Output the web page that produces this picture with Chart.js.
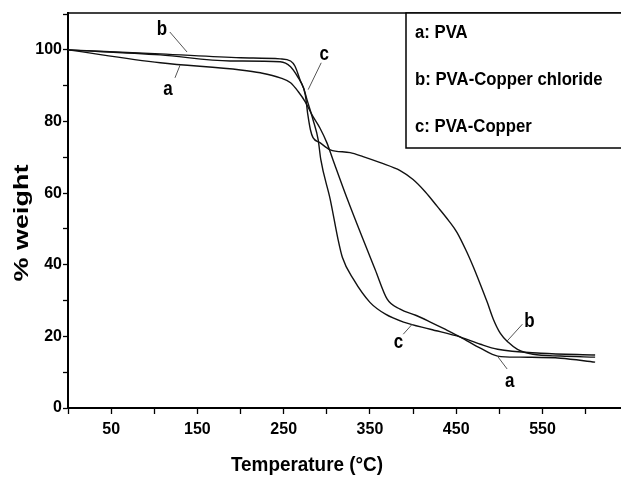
<!DOCTYPE html>
<html>
<head>
<meta charset="utf-8">
<script src="https://cdn.jsdelivr.net/npm/chart.js@4.4.0/dist/chart.umd.min.js"></script>
<style>
html, body { margin: 0; padding: 0; background: #fff; }
#wrap { width: 621px; height: 479px; }
</style>
</head>
<body>
<div id="wrap"><canvas id="tgaChart" width="621" height="479"></canvas></div>
<script>
// a: PVA
const tempA = [0, 107, 200, 223, 246, 258, 267, 275, 283, 292, 300, 307, 324, 342, 356, 370, 385, 403, 420, 437, 455, 478, 498, 524, 571, 611];
const weightA = [100, 96.4, 94.4, 93.6, 92.2, 90.8, 88.3, 85.5, 81.8, 78.2, 74.1, 69.4, 58.2, 47.1, 38.7, 30.4, 27.6, 25.9, 24.0, 22.0, 19.8, 16.7, 14.5, 14.2, 13.9, 12.8];

// b: PVA-Copper chloride
const tempB = [0, 107, 200, 246, 258, 263, 269, 275, 278, 281, 284, 292, 304, 327, 342, 362, 385, 400, 414, 428, 441, 451, 462, 470, 478, 486, 493, 501, 510, 521, 539, 571, 611];
const weightB = [100, 98.9, 97.8, 97.5, 96.9, 95.5, 91.6, 87.5, 81.9, 77.7, 75.5, 74.1, 72.1, 71.3, 70.2, 68.5, 66.3, 63.8, 60.4, 56.3, 52.4, 49.0, 43.7, 39.3, 34.5, 29.5, 24.8, 20.9, 18.4, 16.4, 15.0, 14.5, 14.2];

// c: PVA-Copper
const tempC = [0, 107, 188, 246, 258, 267, 273, 277, 284, 290, 293, 304, 313, 318, 331, 350, 368, 389, 420, 455, 478, 498, 548, 611];
const weightC = [100, 98.6, 96.9, 96.7, 95.3, 92.2, 89.4, 86.1, 80.5, 74.9, 69.4, 58.2, 47.1, 42.1, 35.9, 29.5, 26.2, 24.0, 22.0, 19.8, 17.8, 16.4, 15.3, 14.8];

const xTickLabels = [50, 150, 250, 350, 450, 550];
const yTickLabels = [0, 20, 40, 60, 80, 100];
const legendLines = ['a: PVA', 'b: PVA-Copper chloride', 'c: PVA-Copper'];

const sans = "'Liberation Sans', Arial, sans-serif";

function toPoints(xs, ys) {
    return xs.map((x, i) => ({ x: x, y: ys[i] }));
}

function curve(label, xs, ys) {
    return {
        label: label,
        data: toPoints(xs, ys),
        borderColor: '#111',
        borderWidth: 1.4,
        pointRadius: 0,
        fill: false,
        cubicInterpolationMode: 'monotone'
    };
}

// curve letters with short leader lines, in data units
const curveTags = [
    { text: 'b', at: [109, 105.8], from: [118, 105.0], to: [138, 99.4] },
    { text: 'a', at: [116, 88.9], from: [124, 92.2], to: [130, 95.8] },
    { text: 'c', at: [297, 98.6], from: [293.5, 96.4], to: [278.4, 88.9] },
    { text: 'c', at: [383, 18.4], from: [388.6, 20.6], to: [399, 23.4] },
    { text: 'b', at: [535, 24.2], from: [526.7, 23.4], to: [509, 18.7] },
    { text: 'a', at: [512, 7.5], from: [509, 10.9], to: [497.7, 14.5] }
];

// squeezed bold text, like the narrow face of the original
function narrowText(ctx, text, x, y, size, squeeze, angle) {
    ctx.save();
    ctx.translate(x, y);
    if (angle) ctx.rotate(angle);
    ctx.scale(angle ? 1 : squeeze, angle ? squeeze : 1);
    ctx.font = 'bold ' + size + 'px ' + sans;
    ctx.fillText(text, 0, 0);
    ctx.restore();
}

const decorPlugin = {
    id: 'decor',
    afterDatasetsDraw(chart) {
        const { ctx, chartArea } = chart;
        const xs = chart.scales.x;
        const ys = chart.scales.y;
        ctx.save();

        // top frame
        ctx.strokeStyle = '#000';
        ctx.lineWidth = 1.5;
        ctx.beginPath();
        ctx.moveTo(chartArea.left, chartArea.top);
        ctx.lineTo(chartArea.right, chartArea.top);
        ctx.stroke();

        // legend box
        const bx = 406, by = chartArea.top, bw = chartArea.right - 406 + 5, bh = 135;
        ctx.fillStyle = '#fff';
        ctx.fillRect(bx, by, bw, bh);
        ctx.strokeRect(bx, by, bw, bh);
        ctx.fillStyle = '#000';
        ctx.textBaseline = 'middle';
        ctx.textAlign = 'left';
        legendLines.forEach((t, i) => {
            narrowText(ctx, t, 415, 33 + i * 47, 18, 0.93);
        });

        // curve letters
        ctx.textAlign = 'center';
        curveTags.forEach(tag => {
            ctx.fillStyle = '#000';
            narrowText(ctx, tag.text, xs.getPixelForValue(tag.at[0]), ys.getPixelForValue(tag.at[1]), 20, 0.85);
            ctx.strokeStyle = '#555';
            ctx.lineWidth = 1;
            ctx.beginPath();
            ctx.moveTo(xs.getPixelForValue(tag.from[0]), ys.getPixelForValue(tag.from[1]));
            ctx.lineTo(xs.getPixelForValue(tag.to[0]), ys.getPixelForValue(tag.to[1]));
            ctx.stroke();
        });

        // axis titles
        ctx.fillStyle = '#000';
        narrowText(ctx, 'Temperature (°C)', 307, 465, 21, 0.9);
        narrowText(ctx, '% weight', 22, 223, 27, 0.75, -Math.PI / 2);
        ctx.restore();
    }
};

new Chart(document.getElementById('tgaChart'), {
    type: 'line',
    data: {
        datasets: [
            curve('a: PVA', tempA, weightA),
            curve('b: PVA-Copper chloride', tempB, weightB),
            curve('c: PVA-Copper', tempC, weightC)
        ]
    },
    options: {
        responsive: false,
        animation: false,
        layout: { padding: { top: 13, left: 0, right: 0, bottom: 0 } },
        plugins: {
            legend: { display: false },
            tooltip: { enabled: false }
        },
        scales: {
            x: {
                type: 'linear',
                min: 0,
                max: 641,
                afterFit: s => { s.height = 71; },
                border: { color: '#000', width: 2 },
                grid: { drawOnChartArea: false, tickLength: 6, color: '#000', tickWidth: 1.3 },
                ticks: {
                    stepSize: 50,
                    includeBounds: false,
                    maxRotation: 0,
                    autoSkip: false,
                    padding: 6,
                    color: '#000',
                    font: { family: sans, size: 16, weight: 'bold' },
                    callback: v => xTickLabels.includes(v) ? String(v) : ''
                }
            },
            y: {
                min: 0,
                max: 110.3,
                afterFit: s => { s.width = 68; },
                border: { color: '#000', width: 2 },
                grid: { drawOnChartArea: false, tickLength: 5, color: '#000', tickWidth: 1.3 },
                ticks: {
                    stepSize: 10,
                    includeBounds: false,
                    autoSkip: false,
                    padding: 1,
                    color: '#000',
                    font: { family: sans, size: 16, weight: 'bold' },
                    callback: v => yTickLabels.includes(v) ? String(v) : ''
                }
            }
        }
    },
    plugins: [decorPlugin]
});
</script>
</body>
</html>
